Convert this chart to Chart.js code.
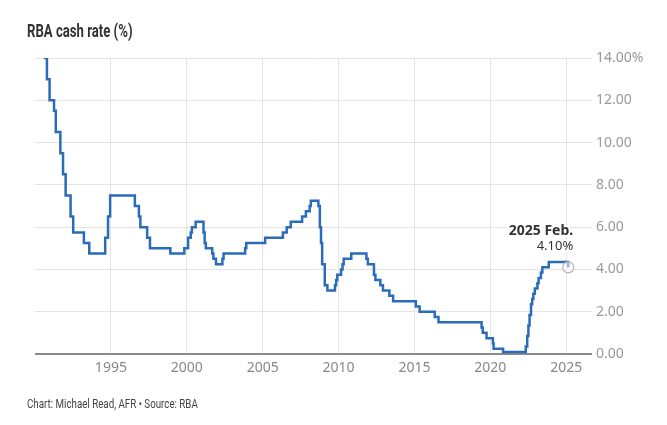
<!DOCTYPE html>
<html>
<head>
<meta charset="utf-8">
<script src="https://cdn.jsdelivr.net/npm/chart.js@4"></script>
<style>
  html, body { margin: 0; padding: 0; background: #fff; }
  #wrap { position: relative; width: 667px; height: 425px; }
  #chart { position: absolute; left: 0; top: 0; }
  /* condensed look: no narrow face installed, so squeeze Roboto */
  .title {
    position: absolute; left: 27px; top: 20px;
    font: bold 18px "Roboto", sans-serif;
    color: #333; white-space: nowrap;
    transform: scaleX(0.73); transform-origin: left top;
  }
  .footer {
    position: absolute; left: 27px; top: 396px;
    font: 13px "Roboto", sans-serif;
    color: #444; white-space: nowrap;
    transform: scaleX(0.75); transform-origin: left top;
  }
</style>
</head>
<body>
<div id="wrap">
  <canvas id="chart" width="667" height="425"></canvas>
  <div class="title">RBA cash rate (%)</div>
  <div class="footer">Chart: Michael Read, AFR • Source: RBA</div>
</div>
<script>
// ── data: RBA cash rate target, date of each change ──────────────────────────
const changeDates = [
  '1990-08-02', '1990-10-15', '1990-12-18', '1991-04-04', '1991-05-16', '1991-09-03',
  '1991-11-06', '1992-01-08', '1992-05-06', '1992-07-08', '1993-03-23', '1993-07-30',
  '1994-08-17', '1994-10-24', '1994-12-14', '1996-07-31', '1996-11-06', '1996-12-11',
  '1997-05-23', '1997-07-30', '1998-12-02', '1999-11-03', '2000-02-02', '2000-04-05',
  '2000-05-03', '2000-08-02', '2001-02-07', '2001-03-07', '2001-04-04', '2001-09-05',
  '2001-10-03', '2001-12-05', '2002-05-08', '2002-06-05', '2003-11-05', '2003-12-03',
  '2005-03-02', '2006-05-03', '2006-08-02', '2006-11-08', '2007-08-08', '2007-11-07',
  '2008-02-06', '2008-03-05', '2008-09-03', '2008-10-08', '2008-11-05', '2008-12-03',
  '2009-02-04', '2009-04-08', '2009-10-07', '2009-11-04', '2009-12-02', '2010-03-03',
  '2010-04-07', '2010-05-05', '2010-11-03', '2011-11-02', '2011-12-07', '2012-05-02',
  '2012-06-06', '2012-10-03', '2012-12-05', '2013-05-08', '2013-08-07', '2015-02-04',
  '2015-05-06', '2016-05-04', '2016-08-03', '2019-06-05', '2019-07-03', '2019-10-02',
  '2020-03-04', '2020-03-20', '2020-11-04', '2022-05-04', '2022-06-08', '2022-07-06',
  '2022-08-03', '2022-09-07', '2022-10-05', '2022-11-02', '2022-12-07', '2023-02-08',
  '2023-03-08', '2023-05-03', '2023-06-07', '2023-11-08', '2025-02-19',
];
const cashRate = [
  14.0, 13.0, 12.0, 11.5, 10.5, 9.5,
  8.5, 7.5, 6.5, 5.75, 5.25, 4.75,
  5.5, 6.5, 7.5, 7.0, 6.5, 6.0,
  5.5, 5.0, 4.75, 5.0, 5.5, 5.75,
  6.0, 6.25, 5.75, 5.25, 5.0, 4.75,
  4.5, 4.25, 4.5, 4.75, 5.0, 5.25,
  5.5, 5.75, 6.0, 6.25, 6.5, 6.75,
  7.0, 7.25, 7.0, 6.0, 5.25, 4.25,
  3.25, 3.0, 3.25, 3.5, 3.75, 4.0,
  4.25, 4.5, 4.75, 4.5, 4.25, 3.75,
  3.5, 3.25, 3.0, 2.75, 2.5, 2.25,
  2.0, 1.75, 1.5, 1.25, 1.0, 0.75,
  0.5, 0.25, 0.1, 0.35, 0.85, 1.35,
  1.85, 2.35, 2.6, 2.85, 3.1, 3.35,
  3.6, 3.85, 4.1, 4.35, 4.1,
];
const xTicks = [1995, 2000, 2005, 2010, 2015, 2020, 2025];
const yTicks = [0, 2, 4, 6, 8, 10, 12, 14];
const lastLabel = '2025 Feb.';
const lastValueLabel = '4.10%';

// decimal year from an ISO date
function toYear(s) {
  const d = new Date(s + 'T00:00:00Z');
  const y = d.getUTCFullYear();
  const start = Date.UTC(y, 0, 1), end = Date.UTC(y + 1, 0, 1);
  return y + (d.getTime() - start) / (end - start);
}

const points = changeDates.map((d, i) => ({ x: toYear(d), y: cashRate[i] }));
const lastIdx = points.length - 1;

const FONT = '"Noto Sans", "DejaVu Sans", sans-serif';

// label above the last point
const lastPointLabel = {
  id: 'lastPointLabel',
  afterDatasetsDraw(chart) {
    const pt = chart.getDatasetMeta(0).data[lastIdx];
    if (!pt) return;
    const ctx = chart.ctx;
    const x = pt.x + 5;
    ctx.save();
    ctx.textAlign = 'right';
    ctx.textBaseline = 'alphabetic';
    ctx.lineJoin = 'round';
    ctx.strokeStyle = 'rgba(255,255,255,0.9)';
    ctx.lineWidth = 4;
    ctx.fillStyle = '#333';
    ctx.font = 'bold 14px ' + FONT;
    ctx.strokeText(lastLabel, x, pt.y - 32);
    ctx.fillText(lastLabel, x, pt.y - 32);
    ctx.font = '13px ' + FONT;
    ctx.strokeText(lastValueLabel, x, pt.y - 17);
    ctx.fillText(lastValueLabel, x, pt.y - 17);
    ctx.restore();
  },
};

new Chart(document.getElementById('chart'), {
  type: 'line',
  data: {
    datasets: [{
      label: 'Cash rate',
      data: points,
      stepped: 'before',
      borderColor: '#2b6cb8',
      borderWidth: 2.5,
      fill: false,
      pointRadius: points.map((p, i) => i === lastIdx ? 5.5 : 0),
      pointBackgroundColor: 'rgba(255,255,255,0.5)',
      pointBorderColor: '#b5b5b5',
      pointBorderWidth: 1.2,
    }],
  },
  options: {
    responsive: false,
    animation: false,
    layout: { padding: { left: 35, top: 58, right: 0, bottom: 0 } },
    plugins: {
      legend:  { display: false },
      tooltip: { enabled: false },
    },
    scales: {
      x: {
        type: 'linear',
        min: 1990,
        max: 2026.7,
        afterBuildTicks: s => { s.ticks = xTicks.map(v => ({ value: v })); },
        afterFit: s => { s.height = 71; s.paddingLeft = 0; s.paddingRight = 0; },
        border: { display: false },
        grid:  { color: '#e4e4e4', lineWidth: 1, drawTicks: false },
        ticks: {
          color: '#888',
          font: { family: FONT, size: 14 },
          padding: 6,
          maxRotation: 0,
          callback: v => String(v),
        },
      },
      y: {
        position: 'right',
        min: 0,
        max: 14,
        afterBuildTicks: s => { s.ticks = yTicks.map(v => ({ value: v })); },
        afterFit: s => { s.width = 75; },
        border: { display: false },
        grid: {
          color: c => c.tick && c.tick.value === 0 ? '#8a8a8a' : '#e4e4e4',
          lineWidth: c => c.tick && c.tick.value === 0 ? 2 : 1,
          drawTicks: false,
        },
        ticks: {
          color: '#999',
          font: { family: FONT, size: 14 },
          padding: 4,
          callback: v => v === 14 ? v.toFixed(2) + '%' : v.toFixed(2),
        },
      },
    },
  },
  plugins: [lastPointLabel],
});
</script>
</body>
</html>
